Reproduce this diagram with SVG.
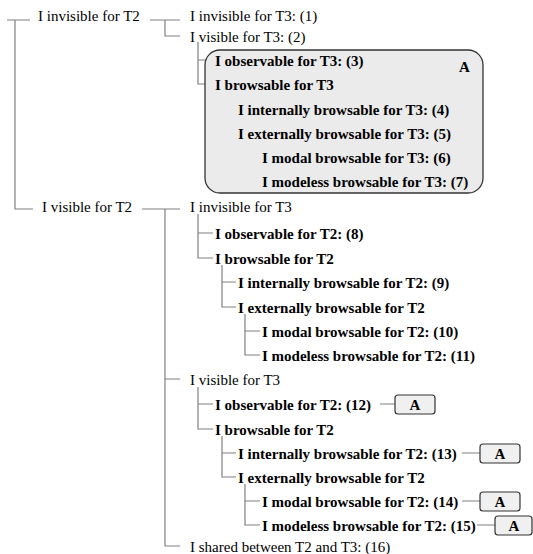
<svg xmlns="http://www.w3.org/2000/svg" width="533" height="554" viewBox="0 0 533 554">
<style>
text{font-family:"Liberation Serif","Times New Roman",serif;font-size:15px;fill:#000}
.b{font-weight:bold}
.ln{stroke:#808080;stroke-width:1.2;fill:none}
.grp{fill:#ebebeb;stroke:#333;stroke-width:1.3}
.ref{fill:#f0f0f0;stroke:#333;stroke-width:1.2}
</style>
<rect width="533" height="554" fill="#fff"/>
<g id="connectors" class="ln">
<path d="M7 20H30M15 20V209H33"/>
<path d="M150 20H180M165 20V36H180"/>
<path d="M198 42V84H213M198 60H213"/>
<path d="M222 91V133H236M222 109H236"/>
<path d="M245 140V181H260M245 157H260"/>
<path d="M142 209H180M165 209V546H180M165 379H180"/>
<path d="M198 214V258H213M198 233H213"/>
<path d="M222 265V307H236M222 282H236"/>
<path d="M245 314V355H260M245 331H260"/>
<path d="M198 387V429H213M198 404H213"/>
<path d="M222 436V477H236M222 453H236"/>
<path d="M245 484V525H260M245 501H260"/>
<path d="M380 404H395M462 453H480M462 501H480M477 525H495"/>
</g>
<g id="groupA"><rect class="grp" x="205" y="50" width="278" height="143" rx="15"/><text class="b" x="459" y="72">A</text></g>
<g id="n-inv-T2"><text x="38" y="21">I invisible for T2</text></g>
<g id="n1"><text x="190" y="21">I invisible for T3: (1)</text></g>
<g id="n2"><text x="190" y="42">I visible for T3: (2)</text></g>
<g id="n3"><text class="b" x="215" y="66">I observable for T3: (3)</text></g>
<g id="n-brow-T3"><text class="b" x="215" y="90">I browsable for T3</text></g>
<g id="n4"><text class="b" x="238" y="115">I internally browsable for T3: (4)</text></g>
<g id="n5"><text class="b" x="238" y="139">I externally browsable for T3: (5)</text></g>
<g id="n6"><text class="b" x="262" y="163">I modal browsable for T3: (6)</text></g>
<g id="n7"><text class="b" x="262" y="187">I modeless browsable for T3: (7)</text></g>
<g id="n-vis-T2"><text x="42" y="212">I visible for T2</text></g>
<g id="n-inv-T3"><text x="190" y="212">I invisible for T3</text></g>
<g id="n8"><text class="b" x="215" y="239">I observable for T2: (8)</text></g>
<g id="n-brow-T2a"><text class="b" x="215" y="264">I browsable for T2</text></g>
<g id="n9"><text class="b" x="238" y="288">I internally browsable for T2: (9)</text></g>
<g id="n-ext-T2a"><text class="b" x="238" y="313">I externally browsable for T2</text></g>
<g id="n10"><text class="b" x="262" y="337">I modal browsable for T2: (10)</text></g>
<g id="n11"><text class="b" x="262" y="361">I modeless browsable for T2: (11)</text></g>
<g id="n-vis-T3"><text x="190" y="385">I visible for T3</text></g>
<g id="n12"><text class="b" x="215" y="410">I observable for T2: (12)</text></g>
<g id="a12"><rect class="ref" x="395" y="395" width="40" height="19" rx="3"/><text class="b" x="415" y="410" text-anchor="middle">A</text></g>
<g id="n-brow-T2b"><text class="b" x="215" y="435">I browsable for T2</text></g>
<g id="n13"><text class="b" x="238" y="459">I internally browsable for T2: (13)</text></g>
<g id="a13"><rect class="ref" x="480" y="444" width="40" height="19" rx="3"/><text class="b" x="500" y="459" text-anchor="middle">A</text></g>
<g id="n-ext-T2b"><text class="b" x="238" y="483">I externally browsable for T2</text></g>
<g id="n14"><text class="b" x="262" y="507">I modal browsable for T2: (14)</text></g>
<g id="a14"><rect class="ref" x="480" y="492" width="40" height="19" rx="3"/><text class="b" x="500" y="507" text-anchor="middle">A</text></g>
<g id="n15"><text class="b" x="262" y="531">I modeless browsable for T2: (15)</text></g>
<g id="a15"><rect class="ref" x="495" y="516" width="37" height="19" rx="3"/><text class="b" x="514" y="531" text-anchor="middle">A</text></g>
<g id="n16"><text x="190" y="552">I shared between T2 and T3: (16)</text></g>
</svg>
